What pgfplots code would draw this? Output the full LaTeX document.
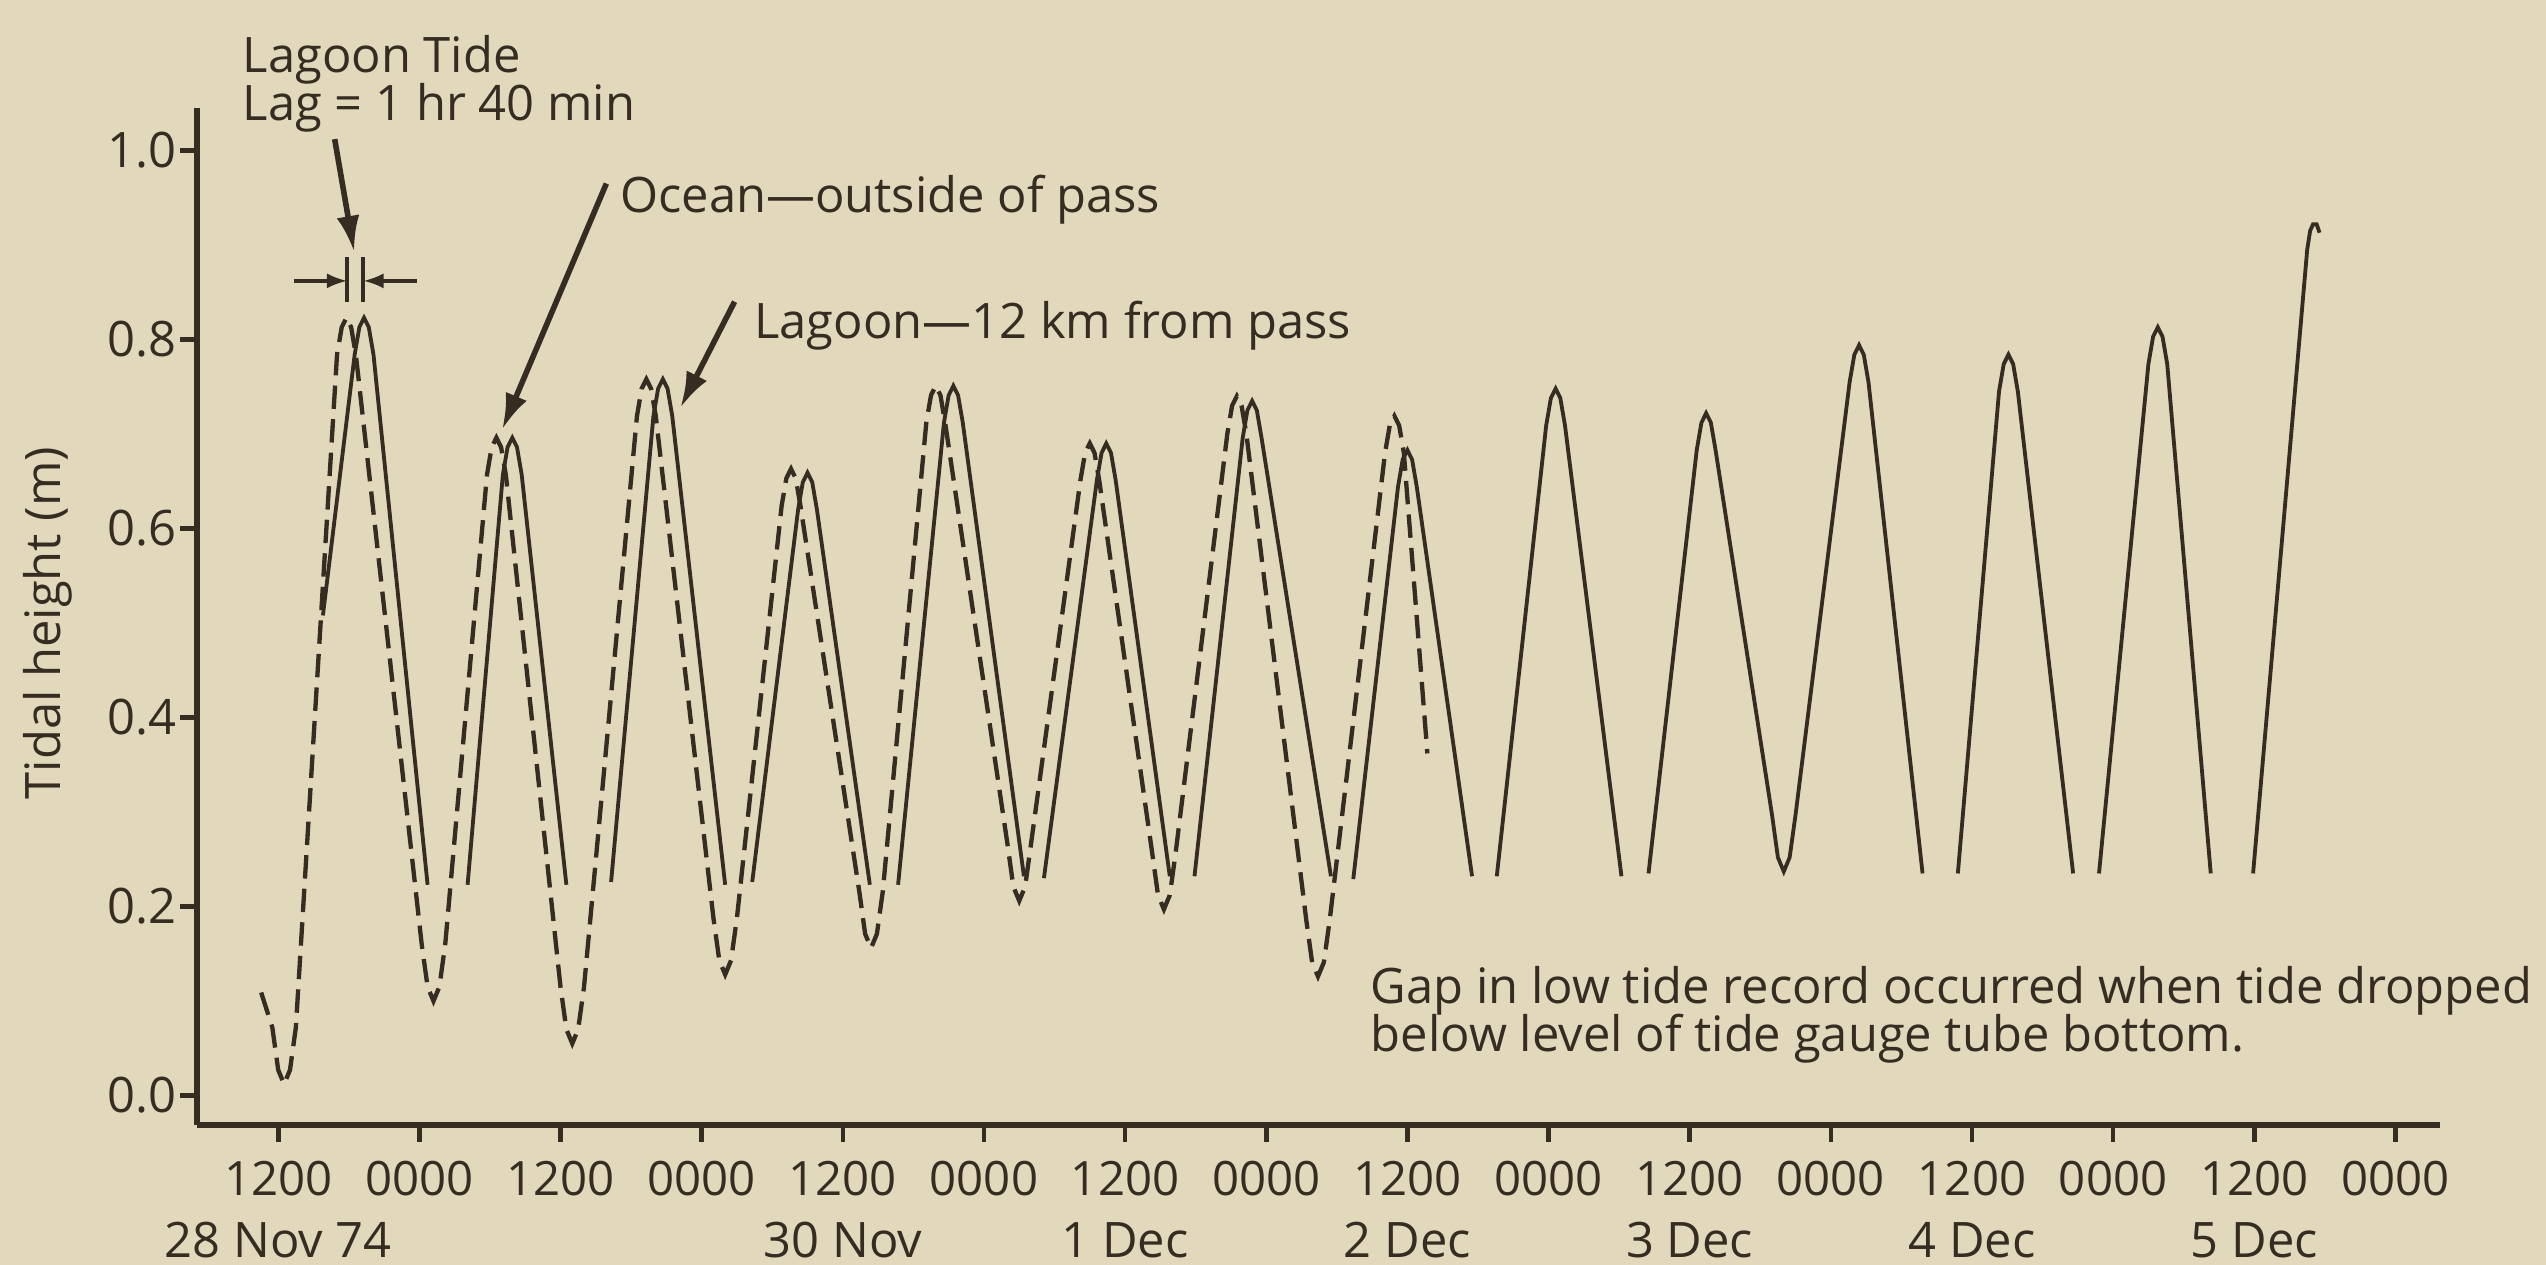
\documentclass[border=0pt]{standalone}
\usepackage{fontspec}
\setmainfont{Open Sans}
\usepackage{pgfplots}
\pgfplotsset{compat=1.18}
\usetikzlibrary{arrows.meta}

\definecolor{paper}{RGB}{226,217,189}
\definecolor{ink}{RGB}{55,44,34}

\begin{document}
\begin{tikzpicture}[font=\fontsize{9.6}{11}\selectfont]
\fill[paper] (0,0) rectangle (500pt,248.4pt);
\path[use as bounding box] (0,0) rectangle (500pt,248.4pt);
\begin{axis}[
  at={(38.7pt,27.5pt)}, anchor=south west,
  scale only axis, width=440.5pt, height=199.7pt,
  xmin=5.1, xmax=195.8, ymin=-0.031, ymax=1.045,
  axis x line*=bottom, axis y line*=left,
  axis line style={ink, line width=1.1pt, -},
  tick style={ink, line width=0.9pt},
  tick align=outside, major tick length=3.3pt,
  xtick={12,24,36,48,60,72,84,96,108,120,132,144,156,168,180,192},
  xticklabels={1200,0000,1200,0000,1200,0000,1200,0000,1200,0000,1200,0000,1200,0000,1200,0000},
  ytick={0,0.2,0.4,0.6,0.8,1},
  yticklabels={0.0,0.2,0.4,0.6,0.8,1.0},
  xticklabel style={ink, inner sep=0pt, yshift=-3.6pt, font=\fontsize{9.3}{11}\selectfont},
  yticklabel style={ink, inner sep=0pt, xshift=-0.6pt},
  clip=false,
  unbounded coords=jump,
]
% ocean, outside of pass (dashed)
\addplot[ink, line width=0.85pt, dash pattern=on 4.6pt off 2pt] table {
x y
10.55 0.109
11.5 0.072
12.0 0.027
12.5 0.012
13.0 0.027
13.5 0.072
17.0 0.784
17.4 0.813
17.8 0.823
18.2 0.813
18.6 0.784
24.2 0.160
24.7 0.115
25.2 0.100
25.7 0.115
26.2 0.160
29.75 0.657
30.15 0.686
30.55 0.696
30.95 0.686
31.35 0.657
36.0 0.115
36.5 0.070
37.0 0.055
37.5 0.070
38.0 0.115
42.5 0.719
42.9 0.748
43.3 0.758
43.7 0.748
44.1 0.719
49.0 0.188
49.5 0.143
50.0 0.128
50.5 0.143
51.0 0.188
54.8 0.624
55.2 0.653
55.6 0.663
56.0 0.653
56.4 0.624
61.4 0.216
61.9 0.171
62.4 0.156
62.9 0.171
63.4 0.216
67.1 0.712
67.5 0.741
67.9 0.751
68.3 0.741
68.7 0.712
74.0 0.266
74.5 0.221
75.0 0.206
75.5 0.221
76.0 0.266
80.2 0.651
80.6 0.680
81.0 0.690
81.4 0.680
81.8 0.651
86.3 0.257
86.8 0.212
87.3 0.197
87.8 0.212
88.3 0.257
92.7 0.701
93.1 0.730
93.5 0.740
93.9 0.730
94.3 0.701
99.4 0.186
99.9 0.141
100.4 0.126
100.9 0.141
101.4 0.186
106.1 0.680
106.5 0.709
106.9 0.719
107.3 0.709
107.7 0.680
109.7 0.362
};
% lagoon, 12 km from pass (solid, gaps at low tide)
\addplot[ink, line width=0.75pt] table {
x y
15.8 0.508
18.5 0.784
18.9 0.813
19.3 0.823
19.7 0.813
20.1 0.784
24.7 0.223
nan nan
28.1 0.223
31.1 0.657
31.5 0.686
31.9 0.696
32.3 0.686
32.7 0.657
36.5 0.223
nan nan
40.3 0.226
43.9 0.719
44.3 0.748
44.7 0.758
45.1 0.748
45.5 0.719
50.0 0.223
nan nan
52.3 0.226
56.2 0.620
56.6 0.649
57.0 0.659
57.4 0.649
57.8 0.620
62.3 0.223
nan nan
64.7 0.223
68.6 0.712
69.0 0.741
69.4 0.751
69.8 0.741
70.2 0.712
75.4 0.232
nan nan
77.1 0.230
81.6 0.651
82.0 0.680
82.4 0.690
82.8 0.680
83.2 0.651
87.8 0.232
nan nan
89.9 0.232
94.0 0.696
94.4 0.725
94.8 0.735
95.2 0.725
95.6 0.696
101.5 0.232
nan nan
103.4 0.229
107.2 0.644
107.6 0.673
108.0 0.683
108.4 0.673
108.8 0.644
113.5 0.232
nan nan
115.6 0.232
119.8 0.709
120.2 0.738
120.6 0.748
121.0 0.738
121.4 0.709
126.2 0.232
nan nan
128.5 0.235
132.6 0.683
133.0 0.712
133.4 0.722
133.8 0.712
134.2 0.683
139.0 0.297
139.5 0.252
140.0 0.237
140.5 0.252
141.0 0.297
145.6 0.755
146.0 0.784
146.4 0.794
146.8 0.784
147.2 0.755
151.8 0.235
nan nan
154.8 0.235
158.3 0.745
158.7 0.774
159.1 0.784
159.5 0.774
159.9 0.745
164.6 0.235
nan nan
166.8 0.235
171.0 0.774
171.4 0.803
171.8 0.813
172.2 0.803
172.6 0.774
176.3 0.235
nan nan
179.9 0.235
184.5 0.895
184.75 0.915
185.0 0.922
185.3 0.922
185.55 0.913
};

% lag bracket
\draw[ink, line width=0.7pt] (axis cs:17.87,0.840) -- (axis cs:17.87,0.887);
\draw[ink, line width=0.7pt] (axis cs:19.23,0.840) -- (axis cs:19.23,0.887);
\draw[ink, line width=0.7pt, -{Latex[length=4pt,width=3pt]}] (axis cs:13.3,0.862) -- (axis cs:17.87,0.862);
\draw[ink, line width=0.7pt, -{Latex[length=4pt,width=3pt]}] (axis cs:23.8,0.862) -- (axis cs:19.23,0.862);

% annotation arrows
\draw[ink, line width=1.1pt, -{Latex[length=7pt,width=4.5pt]}] (axis cs:16.8,1.012) -- (axis cs:18.45,0.893);
\draw[ink, line width=1.1pt, -{Latex[length=7pt,width=4.5pt]}] (axis cs:39.9,0.965) -- (axis cs:31.05,0.705);
\draw[ink, line width=1.1pt, -{Latex[length=7pt,width=4.5pt]}] (axis cs:50.8,0.840) -- (axis cs:46.2,0.728);

% texts
\node[ink, anchor=base west, inner sep=0pt] at (axis cs:8.9,1.083) {Lagoon Tide};
\node[ink, anchor=base west, inner sep=0pt] at (axis cs:8.9,1.032) {Lag = 1 hr 40 min};
\node[ink, anchor=base west, inner sep=0pt] at (axis cs:41.0,0.934) {Ocean—outside of pass};
\node[ink, anchor=base west, inner sep=0pt] at (axis cs:52.4,0.801) {Lagoon—12 km from pass};
\node[ink, anchor=base west, inner sep=0pt] at (axis cs:104.8,0.097) {Gap in low tide record occurred when tide dropped};
\node[ink, anchor=base west, inner sep=0pt] at (axis cs:104.8,0.047) {below level of tide gauge tube bottom.};
\node[ink, rotate=90] at ([xshift=-29.3pt]axis cs:5.1,0.50) {Tidal height (m)};

% date labels
\node[ink, inner sep=0pt] at ([yshift=-22.6pt]axis cs:12,-0.031) {28 Nov 74};
\node[ink, inner sep=0pt] at ([yshift=-22.6pt]axis cs:60,-0.031) {30 Nov};
\node[ink, inner sep=0pt] at ([yshift=-22.6pt]axis cs:84,-0.031) {1 Dec};
\node[ink, inner sep=0pt] at ([yshift=-22.6pt]axis cs:108,-0.031) {2 Dec};
\node[ink, inner sep=0pt] at ([yshift=-22.6pt]axis cs:132,-0.031) {3 Dec};
\node[ink, inner sep=0pt] at ([yshift=-22.6pt]axis cs:156,-0.031) {4 Dec};
\node[ink, inner sep=0pt] at ([yshift=-22.6pt]axis cs:180,-0.031) {5 Dec};
\end{axis}
\end{tikzpicture}
\end{document}
